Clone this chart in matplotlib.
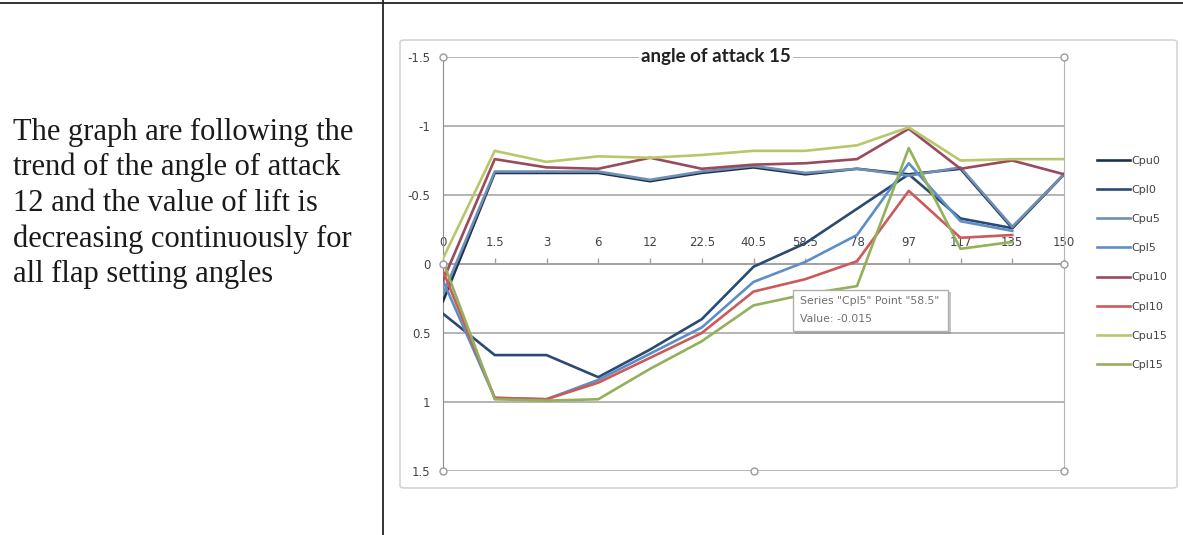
import numpy as np
import matplotlib
matplotlib.use("Agg")
import matplotlib.pyplot as plt
from matplotlib.patches import Rectangle, FancyBboxPatch
from matplotlib.lines import Line2D

W, H = 1183, 535

# pressure coefficient along the chord, angle of attack 15
stations = ["0", "1.5", "3", "6", "12", "22.5", "40.5", "58.5", "78", "97", "117", "135", "150"]

cpu0 = [0.27, -0.66, -0.66, -0.66, -0.60, -0.66, -0.70, -0.65, -0.69, -0.65, -0.69, -0.26, -0.65]
cpl0 = [0.36, 0.66, 0.66, 0.82, 0.62, 0.40, 0.02, -0.15, -0.40, -0.65, -0.33, -0.26, -0.65]
cpu5 = [0.22, -0.67, -0.67, -0.67, -0.61, -0.67, -0.71, -0.66, -0.69, -0.64, -0.70, -0.27, -0.65]
cpl5 = [0.12, 0.97, 0.98, 0.84, 0.65, 0.46, 0.13, -0.015, -0.21, -0.73, -0.31, -0.24, np.nan]
cpu10 = [0.12, -0.76, -0.70, -0.69, -0.77, -0.69, -0.72, -0.73, -0.76, -0.98, -0.69, -0.75, -0.65]
cpl10 = [0.05, 0.97, 0.98, 0.86, 0.68, 0.50, 0.20, 0.11, -0.02, -0.53, -0.19, -0.21, np.nan]
cpu15 = [-0.04, -0.82, -0.74, -0.78, -0.77, -0.79, -0.82, -0.82, -0.86, -0.99, -0.75, -0.76, -0.76]
cpl15 = [-0.02, 0.98, 0.99, 0.98, 0.76, 0.56, 0.30, 0.22, 0.16, -0.84, -0.11, -0.16, np.nan]

series_names = ["Cpu0", "Cpl0", "Cpu5", "Cpl5", "Cpu10", "Cpl10", "Cpu15", "Cpl15"]
series_vals = [cpu0, cpl0, cpu5, cpl5, cpu10, cpl10, cpu15, cpl15]
series_colors = ["#1e324e", "#2a4a72", "#6f90b3", "#5d8fc6",
                 "#9a4a5c", "#cc5a5a", "#b8c76a", "#93b05a"]

yticks = [-1.5, -1, -0.5, 0, 0.5, 1, 1.5]
ytick_labels = ["-1.5", "-1", "-0.5", "0", "0.5", "1", "1.5"]

note_lines = ["The graph are following the",
              "trend of the angle of attack",
              "12 and the value of lift is",
              "decreasing continuously for",
              "all flap setting angles"]


def fx(px):
    return px / W


def fy(py):
    return 1 - py / H


fig = plt.figure(figsize=(W / 100, H / 100), dpi=100)
fig.patch.set_facecolor("white")

# table borders of the page
fig.add_artist(Line2D([0, 1], [fy(3), fy(3)], color="#222222", lw=1.3))
fig.add_artist(Line2D([fx(383), fx(383)], [0, 1], color="#222222", lw=1.3))

# paragraph in the left cell
for i, line in enumerate(note_lines):
    fig.text(fx(13), fy(140 + i * 35.5), line, family="Liberation Serif",
             fontsize=22, color="#1a1a1a", va="baseline", ha="left")

# chart area frame
fig.patches.append(FancyBboxPatch((fx(400), fy(488)), fx(1177) - fx(400), fy(40) - fy(488),
                                  boxstyle="round,pad=0,rounding_size=0.004",
                                  transform=fig.transFigure, facecolor="white",
                                  edgecolor="#d4d4d4", lw=1.2, zorder=-1))

ax = fig.add_axes([fx(443), fy(471), fx(1064) - fx(443), fy(57) - fy(471)])
ax.set_zorder(1)
x = np.arange(len(stations))
for name, vals, col in zip(series_names, series_vals, series_colors):
    ax.plot(x, vals, color=col, lw=1.9, label=name, zorder=3)

ax.set_xlim(0, len(stations) - 1)
ax.set_ylim(1.5, -1.5)
ax.set_yticks(yticks)
ax.set_yticklabels(ytick_labels)
ax.yaxis.grid(True, color="#a8a8a8", lw=1.2)
ax.set_axisbelow(True)
ax.tick_params(axis="y", length=0, pad=9, labelsize=8.5, labelcolor="#444444")

# category axis crosses at zero, labels sit above it
ax.spines["top"].set_position(("data", 0))
ax.spines["top"].set_color("#a0a0a0")
ax.spines["top"].set_linewidth(1.2)
ax.spines["bottom"].set_visible(False)
ax.spines["left"].set_color("#8c8c8c")
ax.spines["right"].set_color("#b5b5b5")
ax.xaxis.set_ticks_position("top")
ax.set_xticks(x)
ax.set_xticklabels(stations)
ax.tick_params(axis="x", direction="out", length=4, width=1, color="#a0a0a0",
               pad=7, labelsize=8.5, labelcolor="#444444")

# selection handles of the plot area
hx = [0, 0.5, 1, 1, 1, 0.5, 0, 0]
hy = [0, 0, 0, 0.5, 1, 1, 1, 0.5]
ax.plot(hx, hy, ls="none", marker="o", ms=5, mfc="white", mec="#9a9a9a",
        mew=1, transform=ax.transAxes, clip_on=False, zorder=5)

ax.text(0.439, 1.0, "angle of attack 15", transform=ax.transAxes, family="Lato",
        weight="bold", fontsize=13.5, color="#222222", ha="center", va="center",
        bbox=dict(facecolor="white", edgecolor="none", pad=1.5), zorder=6)

fig.legend(loc="upper left", bbox_to_anchor=(fx(1087), fy(146)), frameon=False,
           fontsize=8, handlelength=3.0, handletextpad=0.05, labelspacing=1.72,
           labelcolor="#444444")

# hover tooltip on the Cpl5 series
fig.patches.append(Rectangle((fx(795), fy(334)), fx(951) - fx(795), fy(292) - fy(334),
                             transform=fig.transFigure, facecolor="#8a8a8a",
                             edgecolor="none", alpha=0.5, zorder=7))
fig.patches.append(Rectangle((fx(793), fy(331)), fx(948) - fx(793), fy(290) - fy(331),
                             transform=fig.transFigure, facecolor="white",
                             edgecolor="#b0b0b0", lw=1, zorder=8))
fig.text(fx(800), fy(301), 'Series "Cpl5" Point "58.5"', fontsize=7.8, color="#707070",
         va="center", ha="left", zorder=9)
fig.text(fx(800), fy(319), "Value: -0.015", fontsize=7.8, color="#707070",
         va="center", ha="left", zorder=9)

fig.savefig("out.png", dpi=100, facecolor="white")
